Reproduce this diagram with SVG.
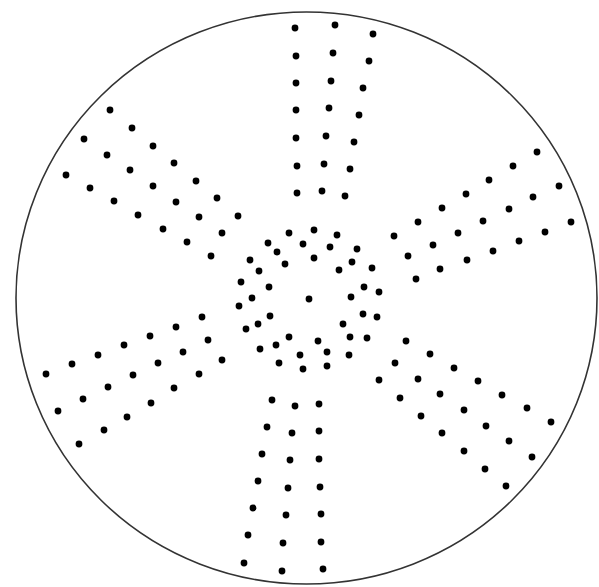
<svg xmlns="http://www.w3.org/2000/svg" width="599" height="587" viewBox="0 0 599 587">
<style>
.d{fill:#000}
.rim{fill:none;stroke:#333;stroke-width:1.6}
</style>
<defs><circle id="p" r="3.4" class="d"/></defs>
<rect width="599" height="587" fill="#fff"/>
<ellipse class="rim" cx="306.5" cy="298" rx="290.5" ry="286"/>
<g id="arm-top">
<use href="#p" x="295" y="28"/><use href="#p" x="296" y="56"/><use href="#p" x="296" y="83"/><use href="#p" x="296" y="110"/><use href="#p" x="296" y="138"/><use href="#p" x="297" y="166"/><use href="#p" x="297" y="193"/>
<use href="#p" x="335" y="25"/><use href="#p" x="333" y="53"/><use href="#p" x="331" y="81"/><use href="#p" x="329" y="108"/><use href="#p" x="326" y="136"/><use href="#p" x="324" y="164"/><use href="#p" x="322" y="191"/>
<use href="#p" x="373" y="34"/><use href="#p" x="369" y="61"/><use href="#p" x="363" y="88"/><use href="#p" x="359" y="115"/><use href="#p" x="354" y="142"/><use href="#p" x="350" y="169"/><use href="#p" x="345" y="196"/>
</g>
<g id="arm-upper-left">
<use href="#p" x="110" y="110"/><use href="#p" x="132" y="128"/><use href="#p" x="153" y="146"/><use href="#p" x="174" y="163"/><use href="#p" x="196" y="181"/><use href="#p" x="217" y="198"/><use href="#p" x="238" y="216"/>
<use href="#p" x="84" y="139"/><use href="#p" x="107" y="155"/><use href="#p" x="130" y="170"/><use href="#p" x="153" y="186"/><use href="#p" x="176" y="202"/><use href="#p" x="199" y="217"/><use href="#p" x="222" y="233"/>
<use href="#p" x="66" y="175"/><use href="#p" x="90" y="188"/><use href="#p" x="114" y="201"/><use href="#p" x="138" y="215"/><use href="#p" x="163" y="229"/><use href="#p" x="187" y="242"/><use href="#p" x="211" y="256"/>
</g>
<g id="arm-upper-right">
<use href="#p" x="537" y="152"/><use href="#p" x="513" y="166"/><use href="#p" x="489" y="180"/><use href="#p" x="466" y="194"/><use href="#p" x="442" y="208"/><use href="#p" x="418" y="222"/><use href="#p" x="394" y="236"/>
<use href="#p" x="559" y="186"/><use href="#p" x="533" y="197"/><use href="#p" x="509" y="209"/><use href="#p" x="483" y="221"/><use href="#p" x="458" y="233"/><use href="#p" x="433" y="245"/><use href="#p" x="408" y="256"/>
<use href="#p" x="571" y="222"/><use href="#p" x="545" y="232"/><use href="#p" x="519" y="241"/><use href="#p" x="493" y="251"/><use href="#p" x="467" y="260"/><use href="#p" x="440" y="269"/><use href="#p" x="416" y="279"/>
</g>
<g id="arm-lower-left">
<use href="#p" x="46" y="374"/><use href="#p" x="72" y="364"/><use href="#p" x="98" y="355"/><use href="#p" x="124" y="345"/><use href="#p" x="150" y="336"/><use href="#p" x="176" y="327"/><use href="#p" x="202" y="317"/>
<use href="#p" x="58" y="411"/><use href="#p" x="83" y="399"/><use href="#p" x="108" y="387"/><use href="#p" x="133" y="375"/><use href="#p" x="158" y="363"/><use href="#p" x="183" y="352"/><use href="#p" x="208" y="340"/>
<use href="#p" x="79" y="444"/><use href="#p" x="104" y="430"/><use href="#p" x="127" y="417"/><use href="#p" x="151" y="403"/><use href="#p" x="174" y="388"/><use href="#p" x="199" y="374"/><use href="#p" x="222" y="360"/>
</g>
<g id="arm-lower-right">
<use href="#p" x="406" y="341"/><use href="#p" x="430" y="354"/><use href="#p" x="454" y="368"/><use href="#p" x="478" y="381"/><use href="#p" x="502" y="395"/><use href="#p" x="527" y="408"/><use href="#p" x="551" y="422"/>
<use href="#p" x="395" y="363"/><use href="#p" x="418" y="379"/><use href="#p" x="440" y="394"/><use href="#p" x="464" y="410"/><use href="#p" x="486" y="426"/><use href="#p" x="509" y="441"/><use href="#p" x="532" y="457"/>
<use href="#p" x="379" y="380"/><use href="#p" x="400" y="398"/><use href="#p" x="421" y="416"/><use href="#p" x="442" y="433"/><use href="#p" x="464" y="451"/><use href="#p" x="485" y="469"/><use href="#p" x="506" y="486"/>
</g>
<g id="arm-bottom">
<use href="#p" x="272" y="400"/><use href="#p" x="267" y="427"/><use href="#p" x="262" y="454"/><use href="#p" x="258" y="481"/><use href="#p" x="253" y="508"/><use href="#p" x="248" y="535"/><use href="#p" x="244" y="563"/>
<use href="#p" x="295" y="406"/><use href="#p" x="292" y="433"/><use href="#p" x="290" y="460"/><use href="#p" x="288" y="488"/><use href="#p" x="286" y="515"/><use href="#p" x="283" y="543"/><use href="#p" x="282" y="571"/>
<use href="#p" x="319" y="404"/><use href="#p" x="319" y="431"/><use href="#p" x="319" y="459"/><use href="#p" x="320" y="487"/><use href="#p" x="321" y="514"/><use href="#p" x="321" y="542"/><use href="#p" x="323" y="569"/>
</g>
<g id="center-cluster">
<use href="#p" x="289" y="233"/><use href="#p" x="314" y="230"/><use href="#p" x="337" y="235"/><use href="#p" x="268" y="243"/><use href="#p" x="303" y="244"/><use href="#p" x="330" y="247"/><use href="#p" x="357" y="249"/><use href="#p" x="277" y="252"/>
<use href="#p" x="250" y="260"/><use href="#p" x="285" y="264"/><use href="#p" x="314" y="258"/><use href="#p" x="352" y="262"/><use href="#p" x="339" y="270"/><use href="#p" x="372" y="268"/><use href="#p" x="259" y="271"/><use href="#p" x="241" y="282"/>
<use href="#p" x="269" y="287"/><use href="#p" x="364" y="287"/><use href="#p" x="379" y="292"/><use href="#p" x="252" y="298"/><use href="#p" x="309" y="299"/><use href="#p" x="351" y="297"/><use href="#p" x="239" y="306"/><use href="#p" x="270" y="316"/>
<use href="#p" x="363" y="314"/><use href="#p" x="377" y="317"/><use href="#p" x="258" y="324"/><use href="#p" x="246" y="329"/><use href="#p" x="343" y="324"/><use href="#p" x="289" y="337"/><use href="#p" x="318" y="341"/><use href="#p" x="350" y="337"/>
<use href="#p" x="367" y="338"/><use href="#p" x="260" y="349"/><use href="#p" x="276" y="345"/><use href="#p" x="300" y="355"/><use href="#p" x="327" y="352"/><use href="#p" x="349" y="355"/><use href="#p" x="279" y="363"/><use href="#p" x="303" y="369"/><use href="#p" x="327" y="366"/>
</g>
</svg>
